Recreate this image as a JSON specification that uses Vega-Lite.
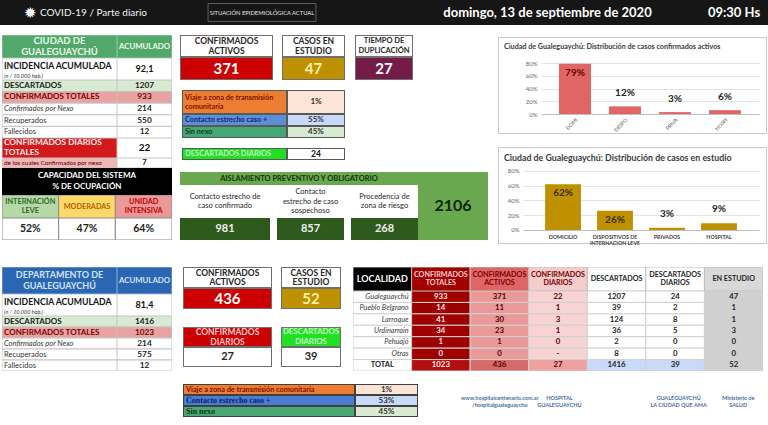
{
"$schema":"https://vega.github.io/schema/vega-lite/v6.json",
"padding":0,
"background":"#ffffff",
"spacing":0,
"resolve":{"scale":{"fill":"independent","color":"independent"}},
"config":{"view":{"stroke":null},"font":"Lato","concat":{"spacing":0}},
"datasets":{
"cells":[
{"id":"h_icon","t":"✹"},
{"id":"h_covid","t":"COVID-19 / Parte diario"},
{"id":"h_sit","t":"SITUACIÓN EPIDEMIOLÓGICA ACTUAL"},
{"id":"h_date","t":"domingo, 13 de septiembre de 2020"},
{"id":"h_time","t":"09:30 Hs"},
{"id":"c_hdr","t":"CIUDAD DE\nGUALEGUAYCHÚ"},
{"id":"c_acu","t":"ACUMULADO"},
{"id":"c_inc","t":"INCIDENCIA ACUMULADA"},
{"id":"c_sub","t":"(n / 10.000 hab.)"},
{"id":"c_incv","t":"92,1"},
{"id":"c_dia","t":"CONFIRMADOS DIARIOS\nTOTALES"},
{"id":"c_diav","t":"22"},
{"id":"c_nex","t":"de los cuales Confirmados por nexo"},
{"id":"c_nexv","t":"7"},
{"id":"cap_hdr","t":"CAPACIDAD DEL SISTEMA\n% DE OCUPACIÓN"},
{"id":"b_act_h","t":"CONFIRMADOS\nACTIVOS"},{"id":"b_act_v","t":"371"},
{"id":"b_est_h","t":"CASOS EN\nESTUDIO"},{"id":"b_est_v","t":"47"},
{"id":"b_dup_h","t":"TIEMPO DE\nDUPLICACIÓN"},{"id":"b_dup_v","t":"27"},
{"id":"dd_h","t":"DESCARTADOS DIARIOS"},{"id":"dd_v","t":"24"},
{"id":"ais_h","t":"AISLAMIENTO PREVENTIVO Y OBLIGATORIO"},{"id":"ais_tot","t":"2106"},
{"id":"d_hdr","t":"DEPARTAMENTO DE\nGUALEGUAYCHÚ"},{"id":"d_acu","t":"ACUMULADO"},
{"id":"d_inc","t":"INCIDENCIA ACUMULADA"},{"id":"d_sub","t":"(n / 10.000 hab.)"},{"id":"d_incv","t":"81,4"},
{"id":"db_act_h","t":"CONFIRMADOS\nACTIVOS"},{"id":"db_act_v","t":"436"},
{"id":"db_est_h","t":"CASOS EN\nESTUDIO"},{"id":"db_est_v","t":"52"},
{"id":"db_dia_h","t":"CONFIRMADOS\nDIARIOS"},{"id":"db_dia_v","t":"27"},
{"id":"db_des_h","t":"DESCARTADOS\nDIARIOS"},{"id":"db_des_v","t":"39"}
],
"acum":[
{"sec":"city","r":1,"k":"desc","label":"DESCARTADOS","v":"1207"},
{"sec":"city","r":2,"k":"conf","label":"CONFIRMADOS TOTALES","v":"933"},
{"sec":"city","r":3,"k":"nexo","label":"Confirmados por Nexo","v":"214"},
{"sec":"city","r":4,"k":"rec","label":"Recuperados","v":"550"},
{"sec":"city","r":5,"k":"fall","label":"Fallecidos","v":"12"},
{"sec":"dept","r":1,"k":"desc","label":"DESCARTADOS","v":"1416"},
{"sec":"dept","r":2,"k":"conf","label":"CONFIRMADOS TOTALES","v":"1023"},
{"sec":"dept","r":3,"k":"nexo","label":"Confirmados por Nexo","v":"214"},
{"sec":"dept","r":4,"k":"rec","label":"Recuperados","v":"575"},
{"sec":"dept","r":5,"k":"fall","label":"Fallecidos","v":"12"}
],
"cap":[
{"c":1,"k":"leve","label":"INTERNACIÓN\nLEVE","v":"52%"},
{"c":2,"k":"mod","label":"MODERADAS","v":"47%"},
{"c":3,"k":"uti","label":"UNIDAD\nINTENSIVA","v":"64%"}
],
"nexo":[
{"sec":"city","r":1,"k":"viaje","label":"Viaje a zona de transmisión\ncomunitaria","v":"1%"},
{"sec":"city","r":2,"k":"contacto","label":"Contacto estrecho caso +","v":"55%"},
{"sec":"city","r":3,"k":"sin","label":"Sin nexo","v":"45%"},
{"sec":"dept","r":1,"k":"viaje","label":"Viaje a zona de transmisión comunitaria","v":"1%"},
{"sec":"dept","r":2,"k":"contacto","label":"Contacto estrecho caso +","v":"53%"},
{"sec":"dept","r":3,"k":"sin","label":"Sin nexo","v":"45%"}
],
"ais":[
{"c":1,"label":"Contacto estrecho de\ncaso confirmado","v":"981"},
{"c":2,"label":"Contacto\nestrecho de caso\nsospechoso","v":"857"},
{"c":3,"label":"Procedencia de\nzona de riesgo","v":"268"}
],
"act":[{"cat":"DOMI","p":0.79},{"cat":"DESPO","p":0.12},{"cat":"PRIVA","p":0.03},{"cat":"HOSPI","p":0.06}],
"est":[{"cat":"DOMICILIO","p":0.62},{"cat":"DISPOSITIVOS DE\nINTERNACION LEVE","p":0.26},{"cat":"PRIVADOS","p":0.03},{"cat":"HOSPITAL","p":0.09}],
"lochdr":[
{"c":"loc","t":"LOCALIDAD"},{"c":"tot","t":"CONFIRMADOS\nTOTALES"},{"c":"act","t":"CONFIRMADOS\nACTIVOS"},{"c":"dia","t":"CONFIRMADOS\nDIARIOS"},{"c":"des","t":"DESCARTADOS"},{"c":"desd","t":"DESCARTADOS\nDIARIOS"},{"c":"est","t":"EN ESTUDIO"}
],
"loc":[
{"r":1,"loc":"Gualeguaychú","tot":"933","act":"371","dia":"22","des":"1207","desd":"24","est":"47"},
{"r":2,"loc":"Pueblo Belgrano","tot":"14","act":"11","dia":"1","des":"39","desd":"2","est":"1"},
{"r":3,"loc":"Larroque","tot":"41","act":"30","dia":"3","des":"124","desd":"8","est":"1"},
{"r":4,"loc":"Urdinarrain","tot":"34","act":"23","dia":"1","des":"36","desd":"5","est":"3"},
{"r":5,"loc":"Pehuajó","tot":"1","act":"1","dia":"0","des":"2","desd":"0","est":"0"},
{"r":6,"loc":"Otras","tot":"0","act":"0","dia":"-","des":"8","desd":"0","est":"0"},
{"r":7,"loc":"TOTAL","tot":"1023","act":"436","dia":"27","des":"1416","desd":"39","est":"52"}
],
"logos":[
{"n":1,"t":"www.hospitalcentenario.com.ar\n/hospitalgualeguaychu"},
{"n":2,"t":"HOSPITAL\nGUALEGUAYCHÚ"},
{"n":4,"t":"GUALEGUAYCHÚ\nLA CIUDAD QUE AMA"},
{"n":5,"t":"Ministerio de\nSALUD"}
]
},
"vconcat":[
{"hconcat":[
{"width":40,"height":25,"view":{"fill":"#161616"},"data":{"name":"cells"},"transform":[{"filter":"datum.id=='h_icon'"}],"mark":{"type":"text","color":"#f2f2f2","fontSize":15,"align":"right","dx":-3},"encoding":{"x":{"field":"id","type":"nominal","axis":null,"bandPosition":1,"scale":{"type":"band","paddingInner":0,"paddingOuter":0}},"text":{"field":"t"}}},
{"width":120,"height":25,"view":{"fill":"#161616"},"data":{"name":"cells"},"transform":[{"filter":"datum.id=='h_covid'"}],"mark":{"type":"text","color":"#f2f2f2","fontSize":10,"align":"left"},"encoding":{"x":{"field":"id","type":"nominal","axis":null,"bandPosition":0,"scale":{"type":"band","paddingInner":0,"paddingOuter":0}},"text":{"field":"t"}}},
{"width":47,"height":25,"view":{"fill":"#161616"},"data":{"values":[]},"mark":"text","encoding":{}},
{"width":110,"height":25,"view":{"fill":"#161616"},"data":{"name":"cells"},"transform":[{"filter":"datum.id=='h_sit'"}],"encoding":{"x":{"field":"id","type":"nominal","axis":null,"scale":{"type":"band","paddingInner":0,"paddingOuter":0.01}},"y":{"field":"id","type":"nominal","axis":null,"scale":{"type":"band","paddingInner":0,"paddingOuter":0.2}}},"layer":[
 {"mark":{"type":"rect","filled":false,"stroke":"#5f5f5f","strokeWidth":1}},
 {"mark":{"type":"text","color":"#e6e6e6","fontSize":5.8},"encoding":{"text":{"field":"t"}}}
]},
{"width":123,"height":25,"view":{"fill":"#161616"},"data":{"values":[]},"mark":"text","encoding":{}},
{"width":215,"height":25,"view":{"fill":"#161616"},"data":{"name":"cells"},"transform":[{"filter":"datum.id=='h_date'"}],"mark":{"type":"text","color":"#ffffff","fontSize":13,"fontWeight":"bold"},"encoding":{"text":{"field":"t"}}},
{"width":45,"height":25,"view":{"fill":"#161616"},"data":{"values":[]},"mark":"text","encoding":{}},
{"width":68,"height":25,"view":{"fill":"#161616"},"data":{"name":"cells"},"transform":[{"filter":"datum.id=='h_time'"}],"mark":{"type":"text","color":"#ffffff","fontSize":13,"fontWeight":"bold"},"encoding":{"text":{"field":"t"}}}
],"spacing":0,"bounds":"flush","resolve":{"scale":{"fill":"independent","color":"independent"}}},
{"width":768,"height":10,"data":{"values":[]},"mark":"text","encoding":{}},
{"hconcat":[
{"width":2,"height":1,"data":{"values":[]},"mark":"text","encoding":{}},
{"vconcat":[
 {"hconcat":[
  {"width":115,"height":23,"data":{"name":"cells"},"transform":[{"filter":"datum.id=='c_hdr'"}],"encoding":{"x":{"field":"id","type":"nominal","axis":null,"scale":{"type":"band","paddingInner":0,"paddingOuter":0}},"y":{"field":"id","type":"nominal","axis":null,"scale":{"type":"band","paddingInner":0,"paddingOuter":0}}},"layer":[
   {"mark":{"type":"rect","clip":true,"fill":"#52a86a","stroke":"#9cc9a6","strokeWidth":1}},
   {"mark":{"type":"text","color":"#e8f8e8","fontSize":9.5,"fontWeight":"bold","lineBreak":"\n","lineHeight":10.5,"dy":-5.25},"encoding":{"text":{"field":"t"}}}]},
  {"width":55,"height":23,"data":{"name":"cells"},"transform":[{"filter":"datum.id=='c_acu'"}],"encoding":{"x":{"field":"id","type":"nominal","axis":null,"scale":{"type":"band","paddingInner":0,"paddingOuter":0}},"y":{"field":"id","type":"nominal","axis":null,"scale":{"type":"band","paddingInner":0,"paddingOuter":0}}},"layer":[
   {"mark":{"type":"rect","clip":true,"fill":"#52a86a","stroke":"#9cc9a6","strokeWidth":1}},
   {"mark":{"type":"text","color":"#e8f8e8","fontSize":7.8,"fontWeight":"bold"},"encoding":{"text":{"field":"t"}}}]}
 ],"spacing":0,"resolve":{"scale":{"fill":"independent","color":"independent"}}},
 {"hconcat":[
  {"width":115,"height":22,"data":{"name":"cells"},"resolve":{"scale":{"x":"independent","y":"independent"}},"layer":[
   {"transform":[{"filter":"datum.id=='c_inc'"}],"mark":{"type":"rect","clip":true,"fill":"#ffffff","stroke":"#c4c4c4","strokeWidth":1},"encoding":{"x":{"field":"id","type":"nominal","axis":null,"scale":{"type":"band","paddingInner":0,"paddingOuter":0}},"y":{"field":"id","type":"nominal","axis":null,"scale":{"type":"band","paddingInner":0,"paddingOuter":0}}}},
   {"transform":[{"filter":"datum.id=='c_inc'"}],"mark":{"type":"text","align":"left","dx":2,"dy":-3,"fontSize":8.7,"fontWeight":"bold","color":"#111111"},"encoding":{"x":{"field":"id","type":"nominal","axis":null,"bandPosition":0,"scale":{"type":"band","paddingInner":0,"paddingOuter":0}},"text":{"field":"t"}}},
   {"transform":[{"filter":"datum.id=='c_sub'"}],"mark":{"type":"text","align":"left","dx":2,"dy":6.5,"fontSize":5.5,"fontStyle":"italic","color":"#333333"},"encoding":{"x":{"field":"id","type":"nominal","axis":null,"bandPosition":0,"scale":{"type":"band","paddingInner":0,"paddingOuter":0}},"text":{"field":"t"}}}
  ]},
  {"width":55,"height":22,"data":{"name":"cells"},"transform":[{"filter":"datum.id=='c_incv'"}],"encoding":{"x":{"field":"id","type":"nominal","axis":null,"scale":{"type":"band","paddingInner":0,"paddingOuter":0}},"y":{"field":"id","type":"nominal","axis":null,"scale":{"type":"band","paddingInner":0,"paddingOuter":0}}},"layer":[
   {"mark":{"type":"rect","clip":true,"fill":"#ffffff","stroke":"#c4c4c4","strokeWidth":1}},
   {"mark":{"type":"text","color":"#111111","fontSize":9,"fontWeight":"bold"},"encoding":{"text":{"field":"t"}}}]}
 ],"spacing":0,"resolve":{"scale":{"fill":"independent","color":"independent"}}},
 {"hconcat":[
  {"width":115,"height":58,"data":{"name":"acum"},"transform":[{"filter":"datum.sec=='city'"}],
   "encoding":{"y":{"field":"r","type":"ordinal","axis":null,"scale":{"type":"band","paddingInner":0,"paddingOuter":0}},"x":{"field":"sec","type":"nominal","axis":null,"scale":{"type":"band","paddingInner":0,"paddingOuter":0}}},
   "layer":[
    {"mark":{"type":"rect","clip":true,"stroke":"#c4c4c4","strokeWidth":1},"encoding":{"fill":{"field":"k","type":"nominal","legend":null,"scale":{"domain":["desc","conf","nexo","rec","fall"],"range":["#d9ead3","#e8a2a2","#ffffff","#ffffff","#ffffff"]}}}},
    {"transform":[{"filter":"datum.k=='desc'||datum.k=='conf'"}],"mark":{"type":"text","align":"left","dx":2,"fontSize":8,"fontWeight":"bold"},"encoding":{"x":{"field":"sec","type":"nominal","axis":null,"bandPosition":0,"scale":{"type":"band","paddingInner":0,"paddingOuter":0}},"text":{"field":"label"},"color":{"field":"k","type":"nominal","legend":null,"scale":{"domain":["desc","conf"],"range":["#1a1a1a","#7a0000"]}}}},
    {"transform":[{"filter":"datum.k=='nexo'"}],"mark":{"type":"text","align":"left","dx":2,"fontSize":7.5,"fontStyle":"italic","color":"#333333"},"encoding":{"x":{"field":"sec","type":"nominal","axis":null,"bandPosition":0,"scale":{"type":"band","paddingInner":0,"paddingOuter":0}},"text":{"field":"label"}}},
    {"transform":[{"filter":"datum.k=='rec'||datum.k=='fall'"}],"mark":{"type":"text","align":"left","dx":2,"fontSize":7.5,"color":"#333333"},"encoding":{"x":{"field":"sec","type":"nominal","axis":null,"bandPosition":0,"scale":{"type":"band","paddingInner":0,"paddingOuter":0}},"text":{"field":"label"}}}
   ]},
  {"width":55,"height":58,"data":{"name":"acum"},"transform":[{"filter":"datum.sec=='city'"}],
   "encoding":{"y":{"field":"r","type":"ordinal","axis":null,"scale":{"type":"band","paddingInner":0,"paddingOuter":0}},"x":{"field":"sec","type":"nominal","axis":null,"scale":{"type":"band","paddingInner":0,"paddingOuter":0}}},
   "layer":[
    {"mark":{"type":"rect","clip":true,"stroke":"#c4c4c4","strokeWidth":1},"encoding":{"fill":{"field":"k","type":"nominal","legend":null,"scale":{"domain":["desc","conf","nexo","rec","fall"],"range":["#d9ead3","#e8a2a2","#ffffff","#ffffff","#ffffff"]}}}},
    {"mark":{"type":"text","fontSize":8.3,"fontWeight":"bold"},"encoding":{"text":{"field":"v"},"color":{"field":"k","type":"nominal","legend":null,"scale":{"domain":["desc","conf","nexo","rec","fall"],"range":["#1a1a1a","#7a0000","#262626","#262626","#262626"]}}}}
   ]}
 ],"spacing":0,"resolve":{"scale":{"fill":"independent","color":"independent"}}},
 {"hconcat":[
  {"width":115,"height":20,"data":{"name":"cells"},"transform":[{"filter":"datum.id=='c_dia'"}],"encoding":{"x":{"field":"id","type":"nominal","axis":null,"scale":{"type":"band","paddingInner":0,"paddingOuter":0}},"y":{"field":"id","type":"nominal","axis":null,"scale":{"type":"band","paddingInner":0,"paddingOuter":0}}},"layer":[
   {"mark":{"type":"rect","clip":true,"fill":"#d3191c","stroke":"#c4c4c4","strokeWidth":1}},
   {"mark":{"type":"text","align":"left","dx":2,"dy":-4.75,"color":"#ffecec","fontSize":8.3,"fontWeight":"bold","lineBreak":"\n","lineHeight":9.5},"encoding":{"x":{"field":"id","type":"nominal","axis":null,"bandPosition":0,"scale":{"type":"band","paddingInner":0,"paddingOuter":0}},"text":{"field":"t"}}}]},
  {"width":55,"height":20,"data":{"name":"cells"},"transform":[{"filter":"datum.id=='c_diav'"}],"encoding":{"x":{"field":"id","type":"nominal","axis":null,"scale":{"type":"band","paddingInner":0,"paddingOuter":0}},"y":{"field":"id","type":"nominal","axis":null,"scale":{"type":"band","paddingInner":0,"paddingOuter":0}}},"layer":[
   {"mark":{"type":"rect","clip":true,"fill":"#ffffff","stroke":"#c4c4c4","strokeWidth":1}},
   {"mark":{"type":"text","color":"#111111","fontSize":10,"fontWeight":"bold"},"encoding":{"text":{"field":"t"}}}]}
 ],"spacing":0,"resolve":{"scale":{"fill":"independent","color":"independent"}}},
 {"hconcat":[
  {"width":115,"height":10,"data":{"name":"cells"},"transform":[{"filter":"datum.id=='c_nex'"}],"encoding":{"x":{"field":"id","type":"nominal","axis":null,"scale":{"type":"band","paddingInner":0,"paddingOuter":0}},"y":{"field":"id","type":"nominal","axis":null,"scale":{"type":"band","paddingInner":0,"paddingOuter":0}}},"layer":[
   {"mark":{"type":"rect","clip":true,"fill":"#f2b6b6","stroke":"#c4c4c4","strokeWidth":1}},
   {"mark":{"type":"text","align":"left","dx":2,"color":"#4a0000","fontSize":6.3,"clip":true},"encoding":{"x":{"field":"id","type":"nominal","axis":null,"bandPosition":0,"scale":{"type":"band","paddingInner":0,"paddingOuter":0}},"text":{"field":"t"}}}]},
  {"width":55,"height":10,"data":{"name":"cells"},"transform":[{"filter":"datum.id=='c_nexv'"}],"encoding":{"x":{"field":"id","type":"nominal","axis":null,"scale":{"type":"band","paddingInner":0,"paddingOuter":0}},"y":{"field":"id","type":"nominal","axis":null,"scale":{"type":"band","paddingInner":0,"paddingOuter":0}}},"layer":[
   {"mark":{"type":"rect","clip":true,"fill":"#ffffff","stroke":"#c4c4c4","strokeWidth":1}},
   {"mark":{"type":"text","color":"#111111","fontSize":7.5,"fontWeight":"bold","clip":true},"encoding":{"text":{"field":"t"}}}]}
 ],"spacing":0,"resolve":{"scale":{"fill":"independent","color":"independent"}}},
 {"width":170,"height":27,"view":{"fill":"#000000"},"data":{"name":"cells"},"transform":[{"filter":"datum.id=='cap_hdr'"}],"mark":{"type":"text","color":"#ffffff","fontSize":8,"fontWeight":"bold","lineBreak":"\n","lineHeight":11,"dy":-5.5},"encoding":{"text":{"field":"t"}}},
 {"width":170,"height":23,"data":{"name":"cap"},"encoding":{"x":{"field":"c","type":"ordinal","axis":null,"scale":{"type":"band","paddingInner":0,"paddingOuter":0}}},"layer":[
  {"mark":{"type":"rect","clip":true,"stroke":"#8c8c8c","strokeWidth":1},"encoding":{"fill":{"field":"k","type":"nominal","legend":null,"scale":{"domain":["leve","mod","uti"],"range":["#b6d7a8","#ffd966","#ea9999"]}}}},
  {"transform":[{"filter":"datum.c!=2"}],"mark":{"type":"text","fontSize":7.3,"fontWeight":"bold","lineBreak":"\n","lineHeight":9,"dy":-4.5},"encoding":{"text":{"field":"label"},"color":{"field":"k","type":"nominal","legend":null,"scale":{"domain":["leve","mod","uti"],"range":["#2f6b1f","#b45f06","#c00000"]}}}},
  {"transform":[{"filter":"datum.c==2"}],"mark":{"type":"text","fontSize":7.3,"fontWeight":"bold","color":"#b45f06"},"encoding":{"text":{"field":"label"}}}
 ]},
 {"width":170,"height":22,"data":{"name":"cap"},"encoding":{"x":{"field":"c","type":"ordinal","axis":null,"scale":{"type":"band","paddingInner":0,"paddingOuter":0}}},"layer":[
  {"mark":{"type":"rect","clip":true,"fill":"#ffffff","stroke":"#8c8c8c","strokeWidth":1}},
  {"mark":{"type":"text","fontSize":10.5,"fontWeight":"bold","color":"#222222"},"encoding":{"text":{"field":"v"}}}
 ]}
],"spacing":0,"resolve":{"scale":{"fill":"independent","color":"independent"}}},
{"width":8,"height":1,"data":{"values":[]},"mark":"text","encoding":{}},
{"vconcat":[
 {"hconcat":[
  {"vconcat":[
   {"width":93,"height":22,"data":{"name":"cells"},"transform":[{"filter":"datum.id=='b_act_h'"}],"encoding":{"x":{"field":"id","type":"nominal","axis":null,"scale":{"type":"band","paddingInner":0,"paddingOuter":0}},"y":{"field":"id","type":"nominal","axis":null,"scale":{"type":"band","paddingInner":0,"paddingOuter":0}}},"layer":[
    {"mark":{"type":"rect","clip":true,"fill":"#ffffff","stroke":"#6f6f6f","strokeWidth":2}},
    {"mark":{"type":"text","color":"#262626","fontSize":8.5,"fontWeight":"bold","lineBreak":"\n","lineHeight":9.5,"dy":-4.75},"encoding":{"text":{"field":"t"}}}]},
   {"width":93,"height":23,"data":{"name":"cells"},"transform":[{"filter":"datum.id=='b_act_v'"}],"encoding":{"x":{"field":"id","type":"nominal","axis":null,"scale":{"type":"band","paddingInner":0,"paddingOuter":0}},"y":{"field":"id","type":"nominal","axis":null,"scale":{"type":"band","paddingInner":0,"paddingOuter":0}}},"layer":[
    {"mark":{"type":"rect","clip":true,"fill":"#cc0000","stroke":"#6f6f6f","strokeWidth":2}},
    {"mark":{"type":"text","color":"#ffffff","fontSize":15,"fontWeight":"bold"},"encoding":{"text":{"field":"t"}}}]}
  ],"spacing":0,"resolve":{"scale":{"fill":"independent","color":"independent"}}},
  {"width":9,"height":1,"data":{"values":[]},"mark":"text","encoding":{}},
  {"vconcat":[
   {"width":63,"height":22,"data":{"name":"cells"},"transform":[{"filter":"datum.id=='b_est_h'"}],"encoding":{"x":{"field":"id","type":"nominal","axis":null,"scale":{"type":"band","paddingInner":0,"paddingOuter":0}},"y":{"field":"id","type":"nominal","axis":null,"scale":{"type":"band","paddingInner":0,"paddingOuter":0}}},"layer":[
    {"mark":{"type":"rect","clip":true,"fill":"#ffffff","stroke":"#6f6f6f","strokeWidth":2}},
    {"mark":{"type":"text","color":"#262626","fontSize":8.5,"fontWeight":"bold","lineBreak":"\n","lineHeight":9.5,"dy":-4.75},"encoding":{"text":{"field":"t"}}}]},
   {"width":63,"height":23,"data":{"name":"cells"},"transform":[{"filter":"datum.id=='b_est_v'"}],"encoding":{"x":{"field":"id","type":"nominal","axis":null,"scale":{"type":"band","paddingInner":0,"paddingOuter":0}},"y":{"field":"id","type":"nominal","axis":null,"scale":{"type":"band","paddingInner":0,"paddingOuter":0}}},"layer":[
    {"mark":{"type":"rect","clip":true,"fill":"#bf9000","stroke":"#6f6f6f","strokeWidth":2}},
    {"mark":{"type":"text","color":"#fff2a8","fontSize":15,"fontWeight":"bold"},"encoding":{"text":{"field":"t"}}}]}
  ],"spacing":0,"resolve":{"scale":{"fill":"independent","color":"independent"}}},
  {"width":10,"height":1,"data":{"values":[]},"mark":"text","encoding":{}},
  {"vconcat":[
   {"width":58,"height":22,"data":{"name":"cells"},"transform":[{"filter":"datum.id=='b_dup_h'"}],"encoding":{"x":{"field":"id","type":"nominal","axis":null,"scale":{"type":"band","paddingInner":0,"paddingOuter":0}},"y":{"field":"id","type":"nominal","axis":null,"scale":{"type":"band","paddingInner":0,"paddingOuter":0}}},"layer":[
    {"mark":{"type":"rect","clip":true,"fill":"#ffffff","stroke":"#6f6f6f","strokeWidth":2}},
    {"mark":{"type":"text","color":"#262626","fontSize":7.5,"fontWeight":"bold","lineBreak":"\n","lineHeight":9.5,"dy":-4.75},"encoding":{"text":{"field":"t"}}}]},
   {"width":58,"height":23,"data":{"name":"cells"},"transform":[{"filter":"datum.id=='b_dup_v'"}],"encoding":{"x":{"field":"id","type":"nominal","axis":null,"scale":{"type":"band","paddingInner":0,"paddingOuter":0}},"y":{"field":"id","type":"nominal","axis":null,"scale":{"type":"band","paddingInner":0,"paddingOuter":0}}},"layer":[
    {"mark":{"type":"rect","clip":true,"fill":"#741b47","stroke":"#6f6f6f","strokeWidth":2}},
    {"mark":{"type":"text","color":"#ffffff","fontSize":15,"fontWeight":"bold"},"encoding":{"text":{"field":"t"}}}]}
  ],"spacing":0,"resolve":{"scale":{"fill":"independent","color":"independent"}}}
 ],"spacing":0,"resolve":{"scale":{"fill":"independent","color":"independent"}}},
 {"width":308,"height":10,"data":{"values":[]},"mark":"text","encoding":{}},
 {"hconcat":[
  {"width":2,"height":1,"data":{"values":[]},"mark":"text","encoding":{}},
  {"vconcat":[
   {"hconcat":[
    {"width":105,"height":24,"data":{"name":"nexo"},"transform":[{"filter":"datum.sec=='city' && datum.r==1"}],"encoding":{"x":{"field":"sec","type":"nominal","axis":null,"scale":{"type":"band","paddingInner":0,"paddingOuter":0}},"y":{"field":"sec","type":"nominal","axis":null,"scale":{"type":"band","paddingInner":0,"paddingOuter":0}}},"layer":[
     {"mark":{"type":"rect","clip":true,"fill":"#ed7d31","stroke":"#595959","strokeWidth":2}},
     {"mark":{"type":"text","align":"left","dx":3,"dy":-4.5,"fontSize":7.3,"fontWeight":"bold","color":"#7a1500","lineBreak":"\n","lineHeight":9},"encoding":{"x":{"field":"sec","type":"nominal","axis":null,"bandPosition":0,"scale":{"type":"band","paddingInner":0,"paddingOuter":0}},"text":{"field":"label"}}}]},
    {"width":58,"height":24,"data":{"name":"nexo"},"transform":[{"filter":"datum.sec=='city' && datum.r==1"}],"encoding":{"x":{"field":"sec","type":"nominal","axis":null,"scale":{"type":"band","paddingInner":0,"paddingOuter":0}},"y":{"field":"sec","type":"nominal","axis":null,"scale":{"type":"band","paddingInner":0,"paddingOuter":0}}},"layer":[
     {"mark":{"type":"rect","clip":true,"fill":"#fce4d6","stroke":"#595959","strokeWidth":2}},
     {"mark":{"type":"text","fontSize":8,"fontWeight":"bold","color":"#333333"},"encoding":{"text":{"field":"v"}}}]}
   ],"spacing":0,"resolve":{"scale":{"fill":"independent","color":"independent"}}},
   {"hconcat":[
    {"width":105,"height":24,"data":{"name":"nexo"},"transform":[{"filter":"datum.sec=='city' && datum.r>1"}],"encoding":{"y":{"field":"r","type":"ordinal","axis":null,"scale":{"type":"band","paddingInner":0,"paddingOuter":0}},"x":{"field":"sec","type":"nominal","axis":null,"scale":{"type":"band","paddingInner":0,"paddingOuter":0}}},"layer":[
     {"mark":{"type":"rect","clip":true,"stroke":"#595959","strokeWidth":2},"encoding":{"fill":{"field":"k","type":"nominal","legend":null,"scale":{"domain":["contacto","sin"],"range":["#5b8fd6","#44a874"]}}}},
     {"mark":{"type":"text","align":"left","dx":3,"fontSize":7.3,"fontWeight":"bold"},"encoding":{"x":{"field":"sec","type":"nominal","axis":null,"bandPosition":0,"scale":{"type":"band","paddingInner":0,"paddingOuter":0}},"text":{"field":"label"},"color":{"field":"k","type":"nominal","legend":null,"scale":{"domain":["contacto","sin"],"range":["#14237a","#0d3d1d"]}}}}
    ]},
    {"width":58,"height":24,"data":{"name":"nexo"},"transform":[{"filter":"datum.sec=='city' && datum.r>1"}],"encoding":{"y":{"field":"r","type":"ordinal","axis":null,"scale":{"type":"band","paddingInner":0,"paddingOuter":0}},"x":{"field":"sec","type":"nominal","axis":null,"scale":{"type":"band","paddingInner":0,"paddingOuter":0}}},"layer":[
     {"mark":{"type":"rect","clip":true,"stroke":"#595959","strokeWidth":2},"encoding":{"fill":{"field":"k","type":"nominal","legend":null,"scale":{"domain":["contacto","sin"],"range":["#c9daf8","#d9ead3"]}}}},
     {"mark":{"type":"text","fontSize":8,"fontWeight":"bold","color":"#333333"},"encoding":{"text":{"field":"v"}}}
    ]}
   ],"spacing":0,"resolve":{"scale":{"fill":"independent","color":"independent"}}}
  ],"spacing":0,"resolve":{"scale":{"fill":"independent","color":"independent"}}}
 ],"spacing":0,"resolve":{"scale":{"fill":"independent","color":"independent"}}},
 {"width":308,"height":10,"data":{"values":[]},"mark":"text","encoding":{}},
 {"hconcat":[
  {"width":2,"height":1,"data":{"values":[]},"mark":"text","encoding":{}},
  {"width":105,"height":12,"data":{"name":"cells"},"transform":[{"filter":"datum.id=='dd_h'"}],"encoding":{"x":{"field":"id","type":"nominal","axis":null,"scale":{"type":"band","paddingInner":0,"paddingOuter":0}},"y":{"field":"id","type":"nominal","axis":null,"scale":{"type":"band","paddingInner":0,"paddingOuter":0}}},"layer":[
   {"mark":{"type":"rect","clip":true,"fill":"#21e021","stroke":"#595959","strokeWidth":2}},
   {"mark":{"type":"text","align":"left","dx":3,"color":"#c2f7c2","fontSize":7.5,"fontWeight":"bold"},"encoding":{"x":{"field":"id","type":"nominal","axis":null,"bandPosition":0,"scale":{"type":"band","paddingInner":0,"paddingOuter":0}},"text":{"field":"t"}}}]},
  {"width":58,"height":12,"data":{"name":"cells"},"transform":[{"filter":"datum.id=='dd_v'"}],"encoding":{"x":{"field":"id","type":"nominal","axis":null,"scale":{"type":"band","paddingInner":0,"paddingOuter":0}},"y":{"field":"id","type":"nominal","axis":null,"scale":{"type":"band","paddingInner":0,"paddingOuter":0}}},"layer":[
   {"mark":{"type":"rect","clip":true,"fill":"#ffffff","stroke":"#595959","strokeWidth":2}},
   {"mark":{"type":"text","color":"#111111","fontSize":8.5,"fontWeight":"bold"},"encoding":{"text":{"field":"t"}}}]}
 ],"spacing":0,"resolve":{"scale":{"fill":"independent","color":"independent"}}},
 {"width":308,"height":12,"data":{"values":[]},"mark":"text","encoding":{}},
 {"hconcat":[
  {"vconcat":[
   {"width":238,"height":13,"view":{"fill":"#6aa84f"},"data":{"name":"cells"},"transform":[{"filter":"datum.id=='ais_h'"}],"mark":{"type":"text","color":"#15300b","fontSize":7.5,"fontWeight":"bold"},"encoding":{"text":{"field":"t"}}},
   {"hconcat":[
    {"vconcat":[
     {"width":90,"height":33,"view":{"fill":"#ffffff"},"data":{"name":"ais"},"transform":[{"filter":"datum.c==1"}],"mark":{"type":"text","fontSize":7.5,"color":"#262626","lineBreak":"\n","lineHeight":9.5,"dy":-4.75},"encoding":{"text":{"field":"label"}}},
     {"width":90,"height":22,"view":{"fill":"#2e5b1d"},"data":{"name":"ais"},"transform":[{"filter":"datum.c==1"}],"mark":{"type":"text","fontSize":11,"fontWeight":"bold","color":"#f0f0f0"},"encoding":{"text":{"field":"v"}}}
    ],"spacing":0},
    {"vconcat":[
     {"width":67,"height":33,"view":{"fill":"#ffffff"},"data":{"name":"ais"},"transform":[{"filter":"datum.c==2"}],"mark":{"type":"text","fontSize":7.5,"color":"#262626","lineBreak":"\n","lineHeight":9.5,"dy":-9.5},"encoding":{"text":{"field":"label"}}},
     {"width":67,"height":22,"view":{"fill":"#2e5b1d"},"data":{"name":"ais"},"transform":[{"filter":"datum.c==2"}],"mark":{"type":"text","fontSize":11,"fontWeight":"bold","color":"#f0f0f0"},"encoding":{"text":{"field":"v"}}}
    ],"spacing":0},
    {"vconcat":[
     {"width":67,"height":33,"view":{"fill":"#ffffff"},"data":{"name":"ais"},"transform":[{"filter":"datum.c==3"}],"mark":{"type":"text","fontSize":7.5,"color":"#262626","lineBreak":"\n","lineHeight":9.5,"dy":-4.75},"encoding":{"text":{"field":"label"}}},
     {"width":67,"height":22,"view":{"fill":"#2e5b1d"},"data":{"name":"ais"},"transform":[{"filter":"datum.c==3"}],"mark":{"type":"text","fontSize":11,"fontWeight":"bold","color":"#f0f0f0"},"encoding":{"text":{"field":"v"}}}
    ],"spacing":0}
   ],"spacing":7}
  ],"spacing":0},
  {"width":70,"height":68,"view":{"fill":"#6aa84f"},"data":{"name":"cells"},"transform":[{"filter":"datum.id=='ais_tot'"}],"mark":{"type":"text","color":"#0d2607","fontSize":16,"fontWeight":"bold"},"encoding":{"text":{"field":"t"}}}
 ],"spacing":0}
],"spacing":0,"resolve":{"scale":{"fill":"independent","color":"independent"}}},
{"width":9,"height":1,"data":{"values":[]},"mark":"text","encoding":{}},
{"vconcat":[
 {"width":268,"height":2,"data":{"values":[]},"mark":"text","encoding":{}},
 {"width":268,"height":96,"view":{"fill":"#ffffff","stroke":"#c8c8c8"},"data":{"name":"act"},
  "title":{"text":"Ciudad de Gualeguaychú: Distribución de casos confirmados activos","anchor":"start","frame":"group","offset":-13,"dx":6,"fontSize":7.2,"fontWeight":"bold","color":"#3a3a3a"},
  "encoding":{
   "x":{"field":"cat","type":"nominal","sort":null,"scale":{"domain":["DOMI","DESPO","PRIVA","HOSPI"],"range":[43,261],"paddingInner":0.36,"paddingOuter":0.36},"axis":{"title":null,"labelAngle":-45,"labelAlign":"right","labelBaseline":"top","labelFontSize":5,"labelColor":"#595959","ticks":false,"domainColor":"#bfbfbf","offset":-19,"labelPadding":3,"grid":false}},
   "y":{"field":"p","type":"quantitative","scale":{"domain":[-0.298,1.208],"nice":false,"zero":false},"axis":{"title":null,"values":[0,0.2,0.4,0.6,0.8],"format":".0%","labelFontSize":6,"labelColor":"#666666","ticks":false,"domain":false,"grid":true,"gridColor":"#d9d9d9","gridWidth":0.7,"offset":-43,"labelPadding":4}}
  },
  "layer":[
   {"mark":{"type":"bar","color":"#e06666"},"encoding":{"y2":{"datum":0}}},
   {"transform":[{"filter":"datum.p>=0.5"}],"mark":{"type":"text","fontSize":10,"fontWeight":"bold","color":"#6b0000","dy":9},"encoding":{"text":{"field":"p","type":"quantitative","format":".0%"}}},
   {"transform":[{"filter":"datum.p<0.5"}],"mark":{"type":"text","fontSize":10,"fontWeight":"bold","color":"#262626","dy":-13},"encoding":{"text":{"field":"p","type":"quantitative","format":".0%"}}}
  ]},
 {"width":268,"height":14,"data":{"values":[]},"mark":"text","encoding":{}},
 {"width":268,"height":96,"view":{"fill":"#ffffff","stroke":"#c8c8c8"},"data":{"name":"est"},
  "title":{"text":"Ciudad de Gualeguaychú: Distribución de casos en estudio","anchor":"start","frame":"group","offset":-16,"dx":6,"fontSize":8.8,"fontWeight":"bold","color":"#3a3a3a"},
  "encoding":{
   "x":{"field":"cat","type":"nominal","sort":null,"scale":{"domain":["DOMICILIO","DISPOSITIVOS DE\nINTERNACION LEVE","PRIVADOS","HOSPITAL"],"range":[25,261],"paddingInner":0.31,"paddingOuter":0.425},"axis":{"title":null,"labelAngle":0,"labelBaseline":"top","labelFontSize":5.3,"labelFontWeight":"bold","labelColor":"#404040","labelExpr":"split(datum.label, '\\n')","labelLineHeight":6.5,"ticks":false,"domainColor":"#bfbfbf","offset":-13,"labelPadding":4,"grid":false}},
   "y":{"field":"p","type":"quantitative","scale":{"domain":[-0.1763,1.1253],"nice":false,"zero":false},"axis":{"title":null,"values":[0,0.2,0.4,0.6,0.8],"format":".0%","labelFontSize":6,"labelColor":"#666666","ticks":false,"domain":false,"grid":true,"gridColor":"#d9d9d9","gridWidth":0.7,"offset":-25,"labelPadding":4}}
  },
  "layer":[
   {"mark":{"type":"bar","color":"#bf9000"},"encoding":{"y2":{"datum":0}}},
   {"transform":[{"filter":"datum.p>=0.2"}],"mark":{"type":"text","fontSize":10,"fontWeight":"bold","color":"#3d2e00","dy":9},"encoding":{"text":{"field":"p","type":"quantitative","format":".0%"}}},
   {"transform":[{"filter":"datum.p<0.2"}],"mark":{"type":"text","fontSize":10,"fontWeight":"bold","color":"#262626","dy":-14},"encoding":{"text":{"field":"p","type":"quantitative","format":".0%"}}}
  ]}
],"spacing":0,"bounds":"flush"}
],"spacing":0,"resolve":{"scale":{"fill":"independent","color":"independent"}}},
{"width":768,"height":20,"data":{"values":[]},"mark":"text","encoding":{}},
{"hconcat":[
{"width":2,"height":1,"data":{"values":[]},"mark":"text","encoding":{}},
{"vconcat":[
 {"hconcat":[
  {"width":115,"height":27,"data":{"name":"cells"},"transform":[{"filter":"datum.id=='d_hdr'"}],"encoding":{"x":{"field":"id","type":"nominal","axis":null,"scale":{"type":"band","paddingInner":0,"paddingOuter":0}},"y":{"field":"id","type":"nominal","axis":null,"scale":{"type":"band","paddingInner":0,"paddingOuter":0}}},"layer":[
   {"mark":{"type":"rect","clip":true,"fill":"#2a66b1","stroke":"#8fb3dd","strokeWidth":1}},
   {"mark":{"type":"text","color":"#d2e4f7","fontSize":9,"fontWeight":"bold","lineBreak":"\n","lineHeight":10.5,"dy":-5.25},"encoding":{"text":{"field":"t"}}}]},
  {"width":55,"height":27,"data":{"name":"cells"},"transform":[{"filter":"datum.id=='d_acu'"}],"encoding":{"x":{"field":"id","type":"nominal","axis":null,"scale":{"type":"band","paddingInner":0,"paddingOuter":0}},"y":{"field":"id","type":"nominal","axis":null,"scale":{"type":"band","paddingInner":0,"paddingOuter":0}}},"layer":[
   {"mark":{"type":"rect","clip":true,"fill":"#2a66b1","stroke":"#8fb3dd","strokeWidth":1}},
   {"mark":{"type":"text","color":"#d2e4f7","fontSize":7.8,"fontWeight":"bold"},"encoding":{"text":{"field":"t"}}}]}
 ],"spacing":0,"resolve":{"scale":{"fill":"independent","color":"independent"}}},
 {"hconcat":[
  {"width":115,"height":22,"data":{"name":"cells"},"resolve":{"scale":{"x":"independent","y":"independent"}},"layer":[
   {"transform":[{"filter":"datum.id=='d_inc'"}],"mark":{"type":"rect","clip":true,"fill":"#ffffff","stroke":"#c4c4c4","strokeWidth":1},"encoding":{"x":{"field":"id","type":"nominal","axis":null,"scale":{"type":"band","paddingInner":0,"paddingOuter":0}},"y":{"field":"id","type":"nominal","axis":null,"scale":{"type":"band","paddingInner":0,"paddingOuter":0}}}},
   {"transform":[{"filter":"datum.id=='d_inc'"}],"mark":{"type":"text","align":"left","dx":2,"dy":-3,"fontSize":8.7,"fontWeight":"bold","color":"#111111"},"encoding":{"x":{"field":"id","type":"nominal","axis":null,"bandPosition":0,"scale":{"type":"band","paddingInner":0,"paddingOuter":0}},"text":{"field":"t"}}},
   {"transform":[{"filter":"datum.id=='d_sub'"}],"mark":{"type":"text","align":"left","dx":2,"dy":6.5,"fontSize":5.5,"fontStyle":"italic","color":"#333333"},"encoding":{"x":{"field":"id","type":"nominal","axis":null,"bandPosition":0,"scale":{"type":"band","paddingInner":0,"paddingOuter":0}},"text":{"field":"t"}}}
  ]},
  {"width":55,"height":22,"data":{"name":"cells"},"transform":[{"filter":"datum.id=='d_incv'"}],"encoding":{"x":{"field":"id","type":"nominal","axis":null,"scale":{"type":"band","paddingInner":0,"paddingOuter":0}},"y":{"field":"id","type":"nominal","axis":null,"scale":{"type":"band","paddingInner":0,"paddingOuter":0}}},"layer":[
   {"mark":{"type":"rect","clip":true,"fill":"#ffffff","stroke":"#c4c4c4","strokeWidth":1}},
   {"mark":{"type":"text","color":"#111111","fontSize":9,"fontWeight":"bold"},"encoding":{"text":{"field":"t"}}}]}
 ],"spacing":0,"resolve":{"scale":{"fill":"independent","color":"independent"}}},
 {"hconcat":[
  {"width":115,"height":55,"data":{"name":"acum"},"transform":[{"filter":"datum.sec=='dept'"}],
   "encoding":{"y":{"field":"r","type":"ordinal","axis":null,"scale":{"type":"band","paddingInner":0,"paddingOuter":0}},"x":{"field":"sec","type":"nominal","axis":null,"scale":{"type":"band","paddingInner":0,"paddingOuter":0}}},
   "layer":[
    {"mark":{"type":"rect","clip":true,"stroke":"#c4c4c4","strokeWidth":1},"encoding":{"fill":{"field":"k","type":"nominal","legend":null,"scale":{"domain":["desc","conf","nexo","rec","fall"],"range":["#d9ead3","#e8a2a2","#ffffff","#ffffff","#ffffff"]}}}},
    {"transform":[{"filter":"datum.k=='desc'||datum.k=='conf'"}],"mark":{"type":"text","align":"left","dx":2,"fontSize":8,"fontWeight":"bold"},"encoding":{"x":{"field":"sec","type":"nominal","axis":null,"bandPosition":0,"scale":{"type":"band","paddingInner":0,"paddingOuter":0}},"text":{"field":"label"},"color":{"field":"k","type":"nominal","legend":null,"scale":{"domain":["desc","conf"],"range":["#1a1a1a","#7a0000"]}}}},
    {"transform":[{"filter":"datum.k=='nexo'"}],"mark":{"type":"text","align":"left","dx":2,"fontSize":7.5,"fontStyle":"italic","color":"#333333"},"encoding":{"x":{"field":"sec","type":"nominal","axis":null,"bandPosition":0,"scale":{"type":"band","paddingInner":0,"paddingOuter":0}},"text":{"field":"label"}}},
    {"transform":[{"filter":"datum.k=='rec'||datum.k=='fall'"}],"mark":{"type":"text","align":"left","dx":2,"fontSize":7.5,"color":"#333333"},"encoding":{"x":{"field":"sec","type":"nominal","axis":null,"bandPosition":0,"scale":{"type":"band","paddingInner":0,"paddingOuter":0}},"text":{"field":"label"}}}
   ]},
  {"width":55,"height":55,"data":{"name":"acum"},"transform":[{"filter":"datum.sec=='dept'"}],
   "encoding":{"y":{"field":"r","type":"ordinal","axis":null,"scale":{"type":"band","paddingInner":0,"paddingOuter":0}},"x":{"field":"sec","type":"nominal","axis":null,"scale":{"type":"band","paddingInner":0,"paddingOuter":0}}},
   "layer":[
    {"mark":{"type":"rect","clip":true,"stroke":"#c4c4c4","strokeWidth":1},"encoding":{"fill":{"field":"k","type":"nominal","legend":null,"scale":{"domain":["desc","conf","nexo","rec","fall"],"range":["#d9ead3","#e8a2a2","#ffffff","#ffffff","#ffffff"]}}}},
    {"mark":{"type":"text","fontSize":8.3,"fontWeight":"bold"},"encoding":{"text":{"field":"v"},"color":{"field":"k","type":"nominal","legend":null,"scale":{"domain":["desc","conf","nexo","rec","fall"],"range":["#1a1a1a","#7a0000","#262626","#262626","#262626"]}}}}
   ]}
 ],"spacing":0,"resolve":{"scale":{"fill":"independent","color":"independent"}}}
],"spacing":0,"resolve":{"scale":{"fill":"independent","color":"independent"}}},
{"width":11,"height":1,"data":{"values":[]},"mark":"text","encoding":{}},
{"vconcat":[
 {"hconcat":[
  {"vconcat":[
   {"width":89,"height":21,"data":{"name":"cells"},"transform":[{"filter":"datum.id=='db_act_h'"}],"encoding":{"x":{"field":"id","type":"nominal","axis":null,"scale":{"type":"band","paddingInner":0,"paddingOuter":0}},"y":{"field":"id","type":"nominal","axis":null,"scale":{"type":"band","paddingInner":0,"paddingOuter":0}}},"layer":[
    {"mark":{"type":"rect","clip":true,"fill":"#ffffff","stroke":"#6f6f6f","strokeWidth":2}},
    {"mark":{"type":"text","color":"#262626","fontSize":8.5,"fontWeight":"bold","lineBreak":"\n","lineHeight":9.5,"dy":-4.75},"encoding":{"text":{"field":"t"}}}]},
   {"width":89,"height":21,"data":{"name":"cells"},"transform":[{"filter":"datum.id=='db_act_v'"}],"encoding":{"x":{"field":"id","type":"nominal","axis":null,"scale":{"type":"band","paddingInner":0,"paddingOuter":0}},"y":{"field":"id","type":"nominal","axis":null,"scale":{"type":"band","paddingInner":0,"paddingOuter":0}}},"layer":[
    {"mark":{"type":"rect","clip":true,"fill":"#cc0000","stroke":"#6f6f6f","strokeWidth":2}},
    {"mark":{"type":"text","color":"#ffffff","fontSize":15,"fontWeight":"bold"},"encoding":{"text":{"field":"t"}}}]}
  ],"spacing":0,"resolve":{"scale":{"fill":"independent","color":"independent"}}},
  {"width":9,"height":1,"data":{"values":[]},"mark":"text","encoding":{}},
  {"vconcat":[
   {"width":60,"height":21,"data":{"name":"cells"},"transform":[{"filter":"datum.id=='db_est_h'"}],"encoding":{"x":{"field":"id","type":"nominal","axis":null,"scale":{"type":"band","paddingInner":0,"paddingOuter":0}},"y":{"field":"id","type":"nominal","axis":null,"scale":{"type":"band","paddingInner":0,"paddingOuter":0}}},"layer":[
    {"mark":{"type":"rect","clip":true,"fill":"#ffffff","stroke":"#6f6f6f","strokeWidth":2}},
    {"mark":{"type":"text","color":"#262626","fontSize":8.5,"fontWeight":"bold","lineBreak":"\n","lineHeight":9.5,"dy":-4.75},"encoding":{"text":{"field":"t"}}}]},
   {"width":60,"height":21,"data":{"name":"cells"},"transform":[{"filter":"datum.id=='db_est_v'"}],"encoding":{"x":{"field":"id","type":"nominal","axis":null,"scale":{"type":"band","paddingInner":0,"paddingOuter":0}},"y":{"field":"id","type":"nominal","axis":null,"scale":{"type":"band","paddingInner":0,"paddingOuter":0}}},"layer":[
    {"mark":{"type":"rect","clip":true,"fill":"#bf9000","stroke":"#6f6f6f","strokeWidth":2}},
    {"mark":{"type":"text","color":"#fff2a8","fontSize":15,"fontWeight":"bold"},"encoding":{"text":{"field":"t"}}}]}
  ],"spacing":0,"resolve":{"scale":{"fill":"independent","color":"independent"}}}
 ],"spacing":0,"resolve":{"scale":{"fill":"independent","color":"independent"}}},
 {"width":158,"height":18,"data":{"values":[]},"mark":"text","encoding":{}},
 {"hconcat":[
  {"vconcat":[
   {"width":89,"height":20,"data":{"name":"cells"},"transform":[{"filter":"datum.id=='db_dia_h'"}],"encoding":{"x":{"field":"id","type":"nominal","axis":null,"scale":{"type":"band","paddingInner":0,"paddingOuter":0}},"y":{"field":"id","type":"nominal","axis":null,"scale":{"type":"band","paddingInner":0,"paddingOuter":0}}},"layer":[
    {"mark":{"type":"rect","clip":true,"fill":"#cc0000","stroke":"#6f6f6f","strokeWidth":2}},
    {"mark":{"type":"text","color":"#ffc9c9","fontSize":8.5,"fontWeight":"bold","lineBreak":"\n","lineHeight":9.5,"dy":-4.75},"encoding":{"text":{"field":"t"}}}]},
   {"width":89,"height":20,"data":{"name":"cells"},"transform":[{"filter":"datum.id=='db_dia_v'"}],"encoding":{"x":{"field":"id","type":"nominal","axis":null,"scale":{"type":"band","paddingInner":0,"paddingOuter":0}},"y":{"field":"id","type":"nominal","axis":null,"scale":{"type":"band","paddingInner":0,"paddingOuter":0}}},"layer":[
    {"mark":{"type":"rect","clip":true,"fill":"#ffffff","stroke":"#6f6f6f","strokeWidth":2}},
    {"mark":{"type":"text","color":"#262626","fontSize":11,"fontWeight":"bold"},"encoding":{"text":{"field":"t"}}}]}
  ],"spacing":0,"resolve":{"scale":{"fill":"independent","color":"independent"}}},
  {"width":9,"height":1,"data":{"values":[]},"mark":"text","encoding":{}},
  {"vconcat":[
   {"width":60,"height":20,"data":{"name":"cells"},"transform":[{"filter":"datum.id=='db_des_h'"}],"encoding":{"x":{"field":"id","type":"nominal","axis":null,"scale":{"type":"band","paddingInner":0,"paddingOuter":0}},"y":{"field":"id","type":"nominal","axis":null,"scale":{"type":"band","paddingInner":0,"paddingOuter":0}}},"layer":[
    {"mark":{"type":"rect","clip":true,"fill":"#22e022","stroke":"#6f6f6f","strokeWidth":2}},
    {"mark":{"type":"text","color":"#c8f9c8","fontSize":7.8,"fontWeight":"bold","lineBreak":"\n","lineHeight":9.5,"dy":-4.75},"encoding":{"text":{"field":"t"}}}]},
   {"width":60,"height":20,"data":{"name":"cells"},"transform":[{"filter":"datum.id=='db_des_v'"}],"encoding":{"x":{"field":"id","type":"nominal","axis":null,"scale":{"type":"band","paddingInner":0,"paddingOuter":0}},"y":{"field":"id","type":"nominal","axis":null,"scale":{"type":"band","paddingInner":0,"paddingOuter":0}}},"layer":[
    {"mark":{"type":"rect","clip":true,"fill":"#ffffff","stroke":"#6f6f6f","strokeWidth":2}},
    {"mark":{"type":"text","color":"#262626","fontSize":11,"fontWeight":"bold"},"encoding":{"text":{"field":"t"}}}]}
  ],"spacing":0,"resolve":{"scale":{"fill":"independent","color":"independent"}}}
 ],"spacing":0,"resolve":{"scale":{"fill":"independent","color":"independent"}}}
],"spacing":0,"resolve":{"scale":{"fill":"independent","color":"independent"}}},
{"width":12,"height":1,"data":{"values":[]},"mark":"text","encoding":{}},
{"vconcat":[
 {"width":410,"height":24,"data":{"name":"lochdr"},"encoding":{"x":{"field":"c","type":"nominal","axis":null,"sort":["loc","tot","act","dia","des","desd","est"],"scale":{"type":"band","paddingInner":0,"paddingOuter":0}}},"layer":[
  {"mark":{"type":"rect","clip":true,"stroke":"#bdbdbd","strokeWidth":1},"encoding":{"fill":{"field":"c","type":"nominal","legend":null,"scale":{"domain":["loc","tot","act","dia","des","desd","est"],"range":["#000000","#a30000","#e06666","#f4cccc","#ffffff","#ffffff","#d9d9d9"]}}}},
  {"transform":[{"filter":"datum.c=='loc'"}],"mark":{"type":"text","fontSize":9,"fontWeight":"bold","color":"#ffffff"},"encoding":{"text":{"field":"t"}}},
  {"transform":[{"filter":"datum.c=='des' || datum.c=='est'"}],"mark":{"type":"text","fontSize":7.2,"fontWeight":"bold","color":"#262626"},"encoding":{"text":{"field":"t"}}},
  {"transform":[{"filter":"datum.c=='tot' || datum.c=='act' || datum.c=='dia' || datum.c=='desd'"}],"mark":{"type":"text","fontSize":7.2,"fontWeight":"bold","lineBreak":"\n","lineHeight":8.5,"dy":-4.25},"encoding":{"text":{"field":"t"},"color":{"field":"c","type":"nominal","legend":null,"scale":{"domain":["tot","act","dia","desd"],"range":["#f8d0d0","#7a0000","#7a0000","#262626"]}}}}
 ]},
 {"width":410,"height":80,"data":{"name":"loc"},"transform":[{"fold":["loc","tot","act","dia","des","desd","est"],"as":["key","val"]}],
  "encoding":{"x":{"field":"key","type":"nominal","axis":null,"sort":["loc","tot","act","dia","des","desd","est"],"scale":{"type":"band","paddingInner":0,"paddingOuter":0}},"y":{"field":"r","type":"ordinal","axis":null,"scale":{"type":"band","paddingInner":0,"paddingOuter":0}}},
  "resolve":{"scale":{"fill":"independent","color":"independent"}},
  "layer":[
   {"transform":[{"filter":"datum.r<7"}],"mark":{"type":"rect","clip":true,"stroke":"#d0d0d0","strokeWidth":1},"encoding":{"fill":{"field":"key","type":"nominal","legend":null,"scale":{"domain":["loc","tot","act","dia","des","desd","est"],"range":["#ffffff","#9e0000","#ea9999","#f8d3d3","#ffffff","#ffffff","#d0d0d0"]}}}},
   {"transform":[{"filter":"datum.r==7"}],"mark":{"type":"rect","clip":true,"stroke":"#d0d0d0","strokeWidth":1},"encoding":{"fill":{"field":"key","type":"nominal","legend":null,"scale":{"domain":["loc","tot","act","dia","des","desd","est"],"range":["#ffffff","#b01010","#d46a6a","#f1a0a0","#c9daf8","#c9daf8","#d0d0d0"]}}}},
   {"transform":[{"filter":"datum.key=='loc' && datum.r<7"}],"mark":{"type":"text","align":"right","dx":-3,"fontSize":7.3,"fontStyle":"italic","color":"#404040"},"encoding":{"x":{"field":"key","type":"nominal","axis":null,"sort":["loc","tot","act","dia","des","desd","est"],"bandPosition":1,"scale":{"type":"band","paddingInner":0,"paddingOuter":0}},"text":{"field":"val"}}},
   {"transform":[{"filter":"datum.key=='loc' && datum.r==7"}],"mark":{"type":"text","fontSize":7.5,"fontWeight":"bold","color":"#1a1a1a"},"encoding":{"text":{"field":"val"}}},
   {"transform":[{"filter":"datum.key!='loc'"}],"mark":{"type":"text","fontSize":7.8,"fontWeight":"bold"},"encoding":{"text":{"field":"val"},"color":{"field":"key","type":"nominal","legend":null,"scale":{"domain":["tot","act","dia","des","desd","est"],"range":["#ffe8e8","#5a0000","#5a0000","#262626","#262626","#262626"]}}}}
  ]}
],"spacing":0,"bounds":"flush","resolve":{"scale":{"fill":"independent","color":"independent"}}}
],"spacing":0,"resolve":{"scale":{"fill":"independent","color":"independent"}}},
{"width":768,"height":13,"data":{"values":[]},"mark":"text","encoding":{}},
{"hconcat":[
{"width":183,"height":1,"data":{"values":[]},"mark":"text","encoding":{}},
{"width":172,"height":33,"data":{"name":"nexo"},"transform":[{"filter":"datum.sec=='dept'"}],"encoding":{"y":{"field":"r","type":"ordinal","axis":null,"scale":{"type":"band","paddingInner":0,"paddingOuter":0}},"x":{"field":"sec","type":"nominal","axis":null,"scale":{"type":"band","paddingInner":0,"paddingOuter":0}}},"layer":[
 {"mark":{"type":"rect","clip":true,"stroke":"#404040","strokeWidth":2},"encoding":{"fill":{"field":"k","type":"nominal","legend":null,"scale":{"domain":["viaje","contacto","sin"],"range":["#ed7d31","#4a7dd1","#4ba874"]}}}},
 {"transform":[{"filter":"datum.r==1"}],"mark":{"type":"text","align":"left","dx":3,"fontSize":7.3,"fontWeight":"bold","color":"#7a1200"},"encoding":{"x":{"field":"sec","type":"nominal","axis":null,"bandPosition":0,"scale":{"type":"band","paddingInner":0,"paddingOuter":0}},"text":{"field":"label"}}},
 {"transform":[{"filter":"datum.r>1"}],"mark":{"type":"text","align":"left","dx":3,"fontSize":8,"fontWeight":"bold","font":"Liberation Serif"},"encoding":{"x":{"field":"sec","type":"nominal","axis":null,"bandPosition":0,"scale":{"type":"band","paddingInner":0,"paddingOuter":0}},"text":{"field":"label"},"color":{"field":"k","type":"nominal","legend":null,"scale":{"domain":["contacto","sin"],"range":["#101c6b","#0a3a17"]}}}}
]},
{"width":63,"height":33,"data":{"name":"nexo"},"transform":[{"filter":"datum.sec=='dept'"}],"encoding":{"y":{"field":"r","type":"ordinal","axis":null,"scale":{"type":"band","paddingInner":0,"paddingOuter":0}},"x":{"field":"sec","type":"nominal","axis":null,"scale":{"type":"band","paddingInner":0,"paddingOuter":0}}},"layer":[
 {"mark":{"type":"rect","clip":true,"stroke":"#404040","strokeWidth":2},"encoding":{"fill":{"field":"k","type":"nominal","legend":null,"scale":{"domain":["viaje","contacto","sin"],"range":["#fce4d6","#c9daf8","#d9ead3"]}}}},
 {"mark":{"type":"text","fontSize":8,"fontWeight":"bold","color":"#333333"},"encoding":{"text":{"field":"v"}}}
]},
{"width":52,"height":1,"data":{"values":[]},"mark":"text","encoding":{}},
{"width":298,"height":35,"data":{"name":"logos"},"mark":{"type":"text","fontSize":5.5,"fontWeight":"bold","color":"#4a6fa5","lineBreak":"\n","lineHeight":7,"dy":-3.5},"encoding":{"x":{"field":"n","type":"ordinal","axis":null,"scale":{"type":"band","domain":[1,2,3,4,5],"paddingInner":0,"paddingOuter":0}},"text":{"field":"t"}}}
],"spacing":0,"bounds":"flush","resolve":{"scale":{"fill":"independent","color":"independent"}}},
{"width":768,"height":6,"data":{"values":[]},"mark":"text","encoding":{}},
{"width":768,"height":1,"view":{"fill":"#555555"},"data":{"values":[]},"mark":"text","encoding":{}}
]
}
